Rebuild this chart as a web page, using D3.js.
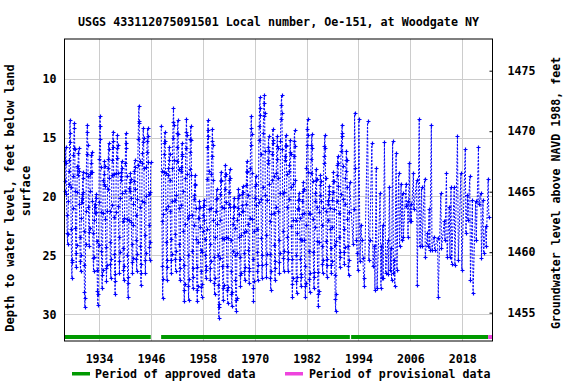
<!DOCTYPE html>
<html>
<head>
<meta charset="utf-8">
<script src="https://cdn.jsdelivr.net/npm/d3@7"></script>
<style>
  body { margin: 0; background: #fff; }
  text { font-family: "DejaVu Sans Mono", monospace; font-weight: bold; fill: #000; }
</style>
</head>
<body>
<div id="chart"></div>
<script>
// monthly depths below land surface, feet (Jan 1926 .. Dec 1945)
const block1Start = 1926;
const block1 = [
  19.5, 18.7, 17.0, 15.8, 17.2, 19.8, 21.6, 23.1, 24.0, 23.2, 20.4, 18.9,
  17.8, 16.9, 14.6, 13.5, 15.4, 19.2, 22.8, 25.4, 26.9, 25.6, 21.0, 18.3,
  16.5, 15.9, 14.2, 13.8, 16.0, 19.5, 22.7, 24.8, 26.0, 24.1, 19.6, 17.4,
  18.2, 17.6, 16.3, 15.9, 17.8, 20.6, 23.4, 25.5, 26.3, 25.0, 21.8, 20.1,
  20.5, 19.8, 18.4, 17.9, 19.6, 22.9, 25.8, 28.1, 29.4, 28.6, 24.0, 21.2,
  18.0, 16.4, 14.5, 13.9, 15.6, 18.3, 20.9, 23.0, 24.2, 22.7, 19.5, 18.1,
  17.9, 17.2, 16.5, 16.2, 17.9, 20.4, 23.1, 25.2, 26.3, 25.1, 22.0, 20.6,
  21.4, 20.9, 20.1, 19.8, 21.3, 23.8, 26.2, 28.0, 29.2, 28.3, 24.1, 20.5,
  16.8, 15.1, 13.2, 14.0, 17.5, 21.3, 24.6, 26.7, 27.8, 26.2, 21.4, 18.6,
  18.9, 18.1, 17.0, 17.4, 19.1, 21.9, 24.3, 26.1, 27.2, 25.8, 21.2, 19.4,
  17.6, 16.8, 15.5, 16.0, 18.4, 21.2, 23.9, 25.7, 26.9, 25.3, 20.7, 18.2,
  16.9, 15.8, 14.5, 15.3, 18.1, 21.7, 24.9, 27.2, 28.3, 26.6, 21.3, 18.0,
  16.7, 15.9, 14.8, 15.6, 18.0, 20.8, 23.4, 25.5, 26.5, 24.7, 20.1, 18.3,
  18.6, 17.9, 17.0, 17.6, 19.7, 22.1, 24.4, 26.2, 27.1, 25.9, 21.8, 19.5,
  17.2, 15.9, 14.6, 15.5, 18.3, 21.9, 25.0, 27.3, 28.5, 26.8, 22.0, 19.3,
  19.5, 18.8, 18.0, 18.5, 20.1, 22.2, 24.0, 25.6, 26.5, 25.2, 22.4, 20.6,
  18.7, 17.8, 16.9, 17.5, 19.4, 21.6, 23.7, 25.3, 26.3, 24.9, 20.2, 17.3,
  15.1, 13.6, 12.3, 13.8, 17.0, 20.9, 24.2, 26.5, 27.5, 25.7, 20.4, 17.2,
  16.3, 15.4, 14.2, 15.0, 17.6, 20.5, 23.3, 25.4, 26.5, 24.8, 20.0, 17.5,
  16.2, 15.3, 14.2, 14.9, 17.1, 19.8, 22.4, 24.3, 25.4, 23.9, 19.6, 17.1
];

// monthly depths, May 1948 .. Dec 1991
const block2Start = 1948 + 4 / 12;
const block2 = [
                          14.0, 17.8, 22.1, 25.9, 28.6, 27.0, 21.5, 17.9,
  16.4, 15.5, 14.5, 15.3, 18.0, 21.1, 23.9, 26.0, 27.1, 25.4, 20.8, 18.2,
  17.6, 16.9, 15.8, 16.4, 18.6, 21.2, 23.6, 25.4, 26.5, 24.9, 20.4, 17.6,
  15.0, 13.7, 12.5, 13.9, 16.9, 20.3, 23.2, 25.3, 26.3, 24.6, 19.9, 17.0,
  15.8, 14.6, 13.5, 14.7, 17.7, 21.0, 24.0, 26.1, 27.1, 25.3, 20.7, 17.8,
  17.5, 16.4, 15.5, 16.6, 19.5, 22.9, 25.8, 27.9, 28.9, 27.4, 22.3, 18.4,
  15.9, 14.5, 13.4, 14.8, 18.1, 21.8, 25.0, 27.6, 28.8, 27.0, 21.6, 17.7,
  16.2, 15.1, 14.0, 15.2, 18.2, 21.6, 24.6, 26.8, 27.8, 26.1, 22.4, 20.2,
  19.9, 19.0, 18.2, 18.9, 21.0, 23.6, 26.0, 27.9, 28.9, 27.6, 23.9, 21.8,
  21.8, 21.0, 20.4, 20.9, 22.6, 24.5, 26.3, 27.7, 28.5, 27.4, 24.7, 22.9,
  21.6, 20.9, 20.3, 20.7, 22.0, 23.6, 25.0, 26.2, 26.9, 25.9, 22.8, 18.5,
  15.8, 14.4, 13.5, 14.9, 17.8, 21.1, 24.0, 26.1, 27.1, 25.5, 21.0, 18.1,
  16.6, 15.3, 14.3, 15.6, 18.6, 22.0, 25.1, 27.3, 28.3, 26.9, 23.4, 21.2,
  21.2, 20.2, 19.4, 20.1, 22.3, 25.0, 27.5, 29.4, 30.3, 29.1, 25.2, 22.0,
  19.8, 18.7, 17.9, 18.6, 20.9, 23.5, 25.9, 27.8, 28.8, 27.5, 23.6, 21.0,
  19.4, 18.3, 17.3, 18.1, 20.5, 23.4, 25.9, 27.9, 29.0, 27.7, 23.5, 20.6,
  19.6, 18.6, 17.7, 18.4, 20.9, 23.7, 26.3, 28.3, 29.3, 28.1, 24.6, 22.3,
  21.8, 20.9, 20.1, 20.8, 22.7, 25.0, 27.1, 28.8, 29.7, 28.6, 24.8, 22.0,
  21.0, 20.1, 19.4, 19.9, 21.5, 23.4, 25.1, 26.7, 27.6, 26.5, 23.3, 21.2,
  20.7, 19.8, 19.1, 19.6, 21.2, 23.0, 24.8, 26.3, 27.1, 26.0, 22.9, 20.6,
  19.0, 17.9, 17.0, 17.8, 19.9, 22.3, 24.5, 26.3, 27.3, 26.1, 21.8, 17.6,
  15.6, 14.2, 13.2, 14.7, 18.0, 21.9, 25.3, 27.8, 28.9, 27.2, 22.9, 20.1,
  20.1, 19.1, 18.3, 18.9, 20.7, 22.8, 24.7, 26.3, 27.1, 25.8, 20.5, 15.2,
  14.0, 12.5, 11.6, 13.1, 16.4, 20.2, 23.5, 25.8, 26.9, 25.0, 19.2, 14.6,
  13.2, 12.1, 11.4, 12.9, 16.1, 19.9, 23.3, 25.7, 26.8, 24.9, 20.3, 17.2,
  16.9, 15.8, 14.9, 16.1, 18.9, 22.1, 24.9, 26.9, 27.9, 26.3, 21.5, 18.6,
  16.4, 15.2, 14.3, 15.5, 18.3, 21.4, 24.1, 26.1, 27.1, 25.5, 20.9, 18.0,
  16.8, 15.7, 14.9, 15.9, 18.4, 21.2, 23.7, 25.6, 26.5, 24.8, 19.7, 15.3,
  13.4, 12.2, 11.4, 12.9, 16.0, 19.7, 22.9, 25.2, 26.3, 24.6, 19.6, 16.9,
  16.6, 15.6, 14.8, 15.7, 18.1, 20.9, 23.4, 25.3, 26.3, 24.7, 20.2, 17.8,
  17.3, 16.2, 15.2, 16.4, 19.2, 22.5, 25.3, 27.4, 28.5, 26.9, 22.0, 18.9,
  16.6, 15.3, 14.4, 15.7, 18.6, 22.0, 25.0, 27.2, 28.2, 26.8, 23.1, 21.0,
  21.1, 20.3, 19.7, 20.2, 21.8, 23.6, 25.3, 26.8, 27.6, 26.6, 23.7, 21.5,
  20.4, 19.5, 18.8, 19.4, 21.4, 23.7, 25.9, 27.6, 28.5, 27.3, 22.4, 17.6,
  15.6, 14.3, 13.4, 14.8, 17.9, 21.4, 24.6, 27.0, 28.1, 26.5, 21.5, 18.0,
  16.8, 15.6, 14.7, 15.9, 18.7, 21.9, 24.7, 26.8, 27.8, 26.4, 22.6, 20.4,
  19.7, 18.6, 17.7, 18.5, 20.9, 23.8, 26.4, 28.3, 29.3, 28.0, 23.9, 21.3,
  19.9, 19.0, 18.2, 18.7, 20.4, 22.4, 24.2, 25.7, 26.5, 25.4, 21.0, 17.2,
  16.6, 15.7, 14.8, 15.9, 18.4, 21.2, 23.8, 25.8, 26.8, 25.3, 22.0, 20.3,
  20.6, 19.8, 19.1, 19.5, 21.0, 22.8, 24.4, 25.8, 26.5, 25.5, 22.6, 20.3,
  19.6, 18.7, 17.9, 18.7, 21.1, 24.1, 26.7, 28.7, 29.7, 28.3, 23.8, 20.4,
  18.2, 17.3, 16.6, 17.2, 19.1, 21.4, 23.4, 25.1, 26.0, 24.7, 19.8, 16.1,
  15.6, 14.6, 13.9, 14.9, 17.4, 20.2, 22.8, 24.7, 25.7, 24.3, 20.6, 18.4,
  17.8, 16.9, 16.1, 16.9, 19.2, 21.9, 24.2, 25.9, 26.7, 25.4, 21.3, 18.8
];

// periodic measurements after 1992
const sparseYears = [
  1992.75, 1992.95, 1993.1, 1993.3, 1993.5, 1993.7, 1993.85, 1994.1, 1994.35, 1994.55,
  1994.8, 1995.0, 1995.2, 1995.35, 1996.1, 1996.4, 1996.6, 1997.1, 1997.35, 1997.7,
  1997.8, 1998.1, 1998.3, 1999.0, 1999.2, 1999.3, 1999.4, 1999.6, 1999.7, 2000.0,
  2000.3, 2000.75, 2000.9, 2001.15, 2001.35, 2001.5, 2001.65, 2001.9, 2002.1, 2002.3,
  2002.4, 2002.7, 2002.9, 2003.3, 2003.5, 2003.85, 2004.0, 2004.2, 2004.4, 2005.0,
  2005.1, 2005.35, 2005.45, 2005.75, 2005.9, 2006.1, 2006.2, 2006.7, 2006.8, 2007.45,
  2007.6, 2008.05, 2008.2, 2008.6, 2008.7, 2009.3, 2009.45, 2009.95, 2010.05, 2010.35,
  2010.5, 2010.85, 2011.0, 2011.5, 2011.6, 2012.3, 2012.45, 2013.05, 2013.2, 2013.85,
  2014.0, 2014.35, 2014.5, 2015.0, 2015.15, 2015.4, 2015.55, 2016.15, 2016.3, 2016.9,
  2017.1, 2017.7, 2017.9, 2018.7, 2018.85, 2019.2, 2019.3, 2019.75, 2019.9, 2020.35,
  2020.5, 2021.1, 2021.25, 2021.75, 2021.85, 2022.3, 2022.45, 2022.8, 2022.95, 2023.4,
  2023.55, 2024.0, 2024.15
];
const sparseDepths = [
  24.0, 21.1, 12.9, 17.6, 23.7, 24.8, 26.2, 13.4, 25.5, 22.4,
  23.7, 25.2, 26.9, 27.6, 13.6, 25.4, 23.7, 15.5, 25.9, 24.2,
  27.9, 17.6, 27.8, 19.7, 27.8, 24.2, 26.9, 22.4, 26.9, 15.4,
  26.5, 23.7, 26.6, 19.2, 26.2, 24.4, 27.1, 15.3, 26.5, 25.4,
  27.6, 16.3, 26.2, 18.0, 24.2, 18.9, 23.7, 19.7, 23.4, 18.9,
  20.8, 20.4, 23.4, 17.2, 22.1, 20.6, 22.1, 18.0, 21.1, 18.6,
  27.5, 13.4, 24.2, 19.2, 24.2, 18.5, 25.1, 23.1, 24.2, 21.1,
  24.5, 13.9, 24.5, 23.4, 24.5, 23.5, 28.5, 19.7, 24.4, 22.1,
  23.7, 18.0, 25.1, 20.9, 25.1, 19.2, 25.7, 19.2, 25.8, 14.9,
  25.4, 18.0, 26.2, 16.0, 23.1, 19.9, 22.0, 18.3, 27.1, 20.3,
  28.2, 20.4, 23.7, 15.8, 20.6, 19.7, 25.2, 20.3, 24.8, 22.5,
  24.2, 18.5, 21.7
];

const xTicks = [1934, 1946, 1958, 1970, 1982, 1994, 2006, 2018];
const depthTicks = [10, 15, 20, 25, 30];
const elevTicks = [1455, 1460, 1465, 1470, 1475];
const approvedPeriods = [[1926, 1945.95], [1948.35, 1992.0], [1992.3, 2024.0]];
const provisionalPeriods = [[2024.0, 2025.0]];

const width = 576, height = 384;
const plot = {left: 64.5, right: 492.5, top: 39, bottom: 341};

const svg = d3.select('#chart').append('svg')
  .attr('width', width)
  .attr('height', height);

const x = d3.scaleLinear().domain([1926, 2025]).range([plot.left, plot.right]);
const y = d3.scaleLinear().domain([6.64, 32.26]).range([plot.top, plot.bottom]);
const yElev = d3.scaleLinear().domain([1477.62, 1452.66]).range([plot.top, plot.bottom]);

// build point list
let points = [];
block1.forEach((d, i) => points.push({t: block1Start + (i + 0.5) / 12, d: d}));
block2.forEach((d, i) => points.push({t: block2Start + (i + 0.5) / 12, d: d}));
sparseYears.forEach((t, i) => points.push({t: t, d: sparseDepths[i]}));

// grid
svg.append('g')
  .selectAll('line')
  .data(xTicks)
  .join('line')
  .attr('x1', d => Math.round(x(d)) + 0.5)
  .attr('x2', d => Math.round(x(d)) + 0.5)
  .attr('y1', plot.top)
  .attr('y2', plot.bottom)
  .attr('stroke', '#cccccc');
svg.append('g')
  .selectAll('line')
  .data(depthTicks)
  .join('line')
  .attr('x1', plot.left)
  .attr('x2', plot.right)
  .attr('y1', d => Math.round(y(d)) + 0.5)
  .attr('y2', d => Math.round(y(d)) + 0.5)
  .attr('stroke', '#cccccc');

// connecting line, broken at gaps longer than a year
const line = d3.line()
  .x(d => x(d.t))
  .y(d => y(d.d));
let segs = [[]];
points.forEach((p, i) => {
  if (i > 0 && p.t - points[i - 1].t > 1.2) segs.push([]);
  segs[segs.length - 1].push(p);
});
svg.append('g')
  .selectAll('path')
  .data(segs)
  .join('path')
  .attr('d', line)
  .attr('fill', 'none')
  .attr('stroke', '#0000ff')
  .attr('stroke-width', 1)
  .attr('stroke-dasharray', '2,1.5');

// + markers
svg.append('g')
  .selectAll('path')
  .data(points)
  .join('path')
  .attr('transform', d => `translate(${Math.round(x(d.t)) + 0.5},${Math.round(y(d.d)) + 0.5})`)
  .attr('d', 'M-2,0H2M0,-2V2')
  .attr('stroke', '#0000ff')
  .attr('stroke-width', 1.2);

// approval bars
svg.append('g')
  .selectAll('rect')
  .data(approvedPeriods)
  .join('rect')
  .attr('x', d => x(d[0]))
  .attr('width', d => x(d[1]) - x(d[0]))
  .attr('y', 335)
  .attr('height', 4)
  .attr('fill', '#009900');
svg.append('g')
  .selectAll('rect')
  .data(provisionalPeriods)
  .join('rect')
  .attr('x', d => x(d[0]))
  .attr('width', d => x(d[1]) - x(d[0]))
  .attr('y', 335)
  .attr('height', 4)
  .attr('fill', '#ee44dd');

// frame
svg.append('rect')
  .attr('x', plot.left)
  .attr('y', plot.top)
  .attr('width', plot.right - plot.left)
  .attr('height', plot.bottom - plot.top)
  .attr('fill', 'none')
  .attr('stroke', '#000')
  .attr('stroke-width', 1);

// axes
const fs = '11.6px';
function styleTicks(sel) {
  sel.selectAll('text')
    .style('font-size', fs)
    .style('font-family', '"DejaVu Sans Mono", monospace')
    .style('font-weight', 'bold')
    .attr('fill', '#000');
}
svg.append('g')
  .attr('transform', `translate(0,${plot.bottom})`)
  .call(d3.axisBottom(x).tickValues(xTicks).tickFormat(d3.format('d')).tickSize(0).tickPadding(14))
  .call(g => g.select('.domain').remove())
  .call(styleTicks);

svg.append('g')
  .attr('transform', `translate(${plot.left},0)`)
  .call(d3.axisLeft(y).tickValues(depthTicks).tickSize(0).tickPadding(8))
  .call(g => g.select('.domain').remove())
  .call(styleTicks);

svg.append('g')
  .attr('transform', `translate(${plot.right},0)`)
  .call(d3.axisRight(yElev).tickValues(elevTicks).tickFormat(d3.format('d')).tickSize(-3).tickPadding(15))
  .call(g => g.select('.domain').remove())
  .call(g => g.selectAll('line').attr('stroke', '#000'))
  .call(styleTicks);

// titles
svg.append('text')
  .attr('x', (plot.left + plot.right) / 2)
  .attr('y', 26)
  .attr('text-anchor', 'middle')
  .style('font-size', '11.7px')
  .text('USGS 433112075091501 Local number, Oe-151, at Woodgate NY');

svg.append('text')
  .attr('transform', 'translate(14,198) rotate(-90)')
  .attr('text-anchor', 'middle')
  .style('font-size', '12px')
  .text('Depth to water level, feet below land');
svg.append('text')
  .attr('transform', 'translate(29.5,191) rotate(-90)')
  .attr('text-anchor', 'middle')
  .style('font-size', '12px')
  .text('surface');

svg.append('text')
  .attr('transform', 'translate(560,193) rotate(-90)')
  .attr('text-anchor', 'middle')
  .style('font-size', fs)
  .text('Groundwater level above NAVD 1988, feet');

// legend
svg.append('rect').attr('x', 72).attr('y', 372).attr('width', 18).attr('height', 3.5).attr('fill', '#009900');
svg.append('text').attr('x', 95).attr('y', 378).style('font-size', fs).text('Period of approved data');
svg.append('rect').attr('x', 285).attr('y', 372).attr('width', 18).attr('height', 3.5).attr('fill', '#ee44dd');
svg.append('text').attr('x', 309).attr('y', 378).style('font-size', fs).text('Period of provisional data');
</script>
</body>
</html>
